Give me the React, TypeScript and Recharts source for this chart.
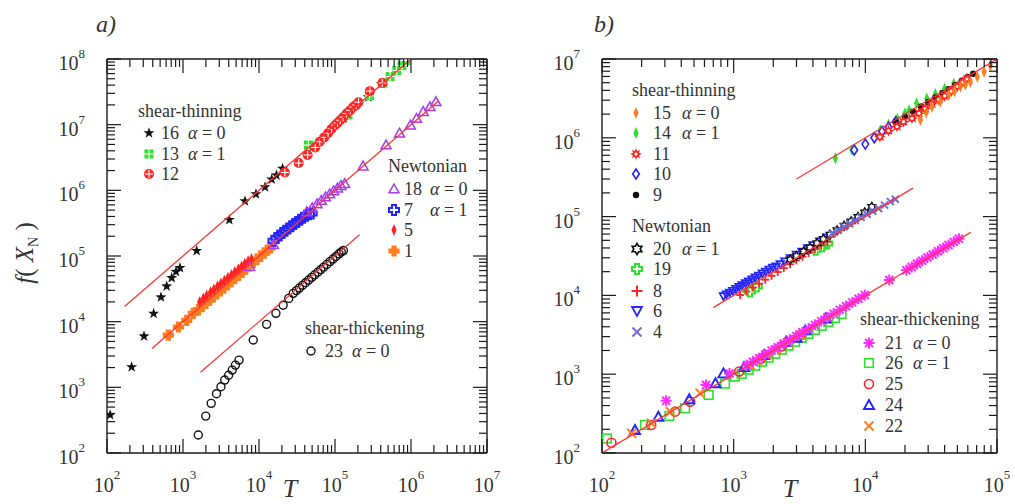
import React from 'react';
import { ScatterChart, Scatter, XAxis, YAxis } from 'recharts';

// ---------------- Panel a data (T, f) ----------------
const a16T = [110, 211, 307, 411, 513, 610, 710, 809, 912, 1513, 4070, 6540, 9120, 12000, 14700, 17000, 20400, 51000, 129000, 274000, 409000];
const a16F = [380, 2040, 6000, 13300, 23600, 34700, 46500, 57600, 66000, 120000, 355000, 684000, 875000, 1120000, 1470000, 1700000, 2150000, 4600000, 12400000, 26300000, 42000000];
const a13T = [44600, 148000, 285000, 430000, 530000, 650000, 760000, 860000];
const a13F = [4900000, 14000000, 27500000, 43000000, 54000000, 67000000, 79000000, 95000000];
const a12T = [21900, 33300, 43600, 55000, 63000, 72000, 81000, 90000, 100000, 108000, 117000, 128000, 142000, 158000, 174000, 190000, 204000, 288000, 420000];
const a12F = [1870000, 2600000, 3450000, 4500000, 5500000, 6400000, 7400000, 8600000, 9800000, 10600000, 11700000, 13000000, 14800000, 16500000, 18600000, 20000000, 22000000, 32400000, 43000000];
const a18T = [7540, 15500, 42600, 50000, 58000, 66000, 75000, 85000, 96000, 108000, 120000, 134000, 234000, 470000, 707000, 980000, 1180000, 1450000, 1780000, 2130000];
const a18F = [69000, 148000, 470000, 540000, 620000, 700000, 790000, 880000, 980000, 1080000, 1180000, 1260000, 2340000, 4900000, 7400000, 9800000, 12400000, 15800000, 18700000, 22300000];
const a7T = [15500, 17000, 18600, 20300, 22200, 24300, 26600, 29100, 31800, 34800, 38000, 41600, 45500, 49300];
const a7F = [170000, 188000, 206000, 224000, 243000, 262000, 284000, 306000, 330000, 356000, 383000, 410000, 432000, 445000];
const a5T = [1660, 1850, 2050, 2300, 2550, 2850, 3150, 3500, 3900, 4350, 4800, 5350, 5900, 6500, 7200, 7960];
const a5F = [20000, 22500, 25000, 28000, 31000, 34500, 38000, 42000, 46500, 51500, 57000, 63000, 69500, 76000, 83000, 90000];
const a1T = [641, 870, 1120, 1365, 1600, 1800, 2000, 2250, 2500, 2800, 3100, 3450, 3850, 4300, 4800, 5400, 6000, 6700, 7500, 8400, 9400, 10500, 11700, 13000, 14000];
const a1F = [6250, 8300, 10500, 13400, 15300, 17200, 19000, 21500, 23800, 26600, 29500, 32800, 36500, 40800, 45600, 51000, 57000, 63500, 71000, 79500, 89000, 99500, 111000, 123000, 133000];
const a23T = [1590, 1990, 2350, 2760, 3160, 3540, 3980, 4450, 4900, 5460, 8400, 12600, 16700, 20800, 24600, 28200, 31000, 34000, 37500, 41000, 45000, 49500, 54000, 59500, 65000, 71000, 78000, 86000, 94000, 103000, 113000, 121000, 129000];
const a23F = [188, 365, 570, 800, 1020, 1290, 1530, 1830, 2180, 2600, 5250, 9100, 13400, 17800, 22600, 27000, 29700, 32500, 35900, 39200, 43000, 47300, 51600, 56800, 62100, 67800, 74500, 82100, 89800, 98400, 108000, 115000, 121000];
// fitted lines, panel a
const aFit1T = [170, 1000000];
const aFit1F = [17000, 100000000];
const aFit2T = [390, 2300000];
const aFit2F = [3900, 23000000];
const aFit3T = [1700, 210000];
const aFit3F = [1700, 210000];

// ---------------- Panel b data (T, f) ----------------
const b15T = [26200, 29000, 32100, 37200, 43000, 47500, 52700, 57500, 62800, 70800, 79800, 89000, 100000];
const b15F = [1680000, 2100000, 2480000, 2880000, 3490000, 3900000, 4470000, 4700000, 5100000, 5960000, 6900000, 8300000, 10000000];
const b14T = [5920, 7920, 13000, 15000, 17500, 20000, 21500, 24500, 29300, 34000, 40000, 47000];
const b14F = [550000, 700000, 1250000, 1480000, 1750000, 2050000, 2240000, 2750000, 3160000, 3600000, 4200000, 4900000];
const b11T = [12900, 15000, 17400, 19500, 22600, 25500, 28500, 32000, 36000, 40000, 45000, 50000, 55000, 59000];
const b11F = [1030000, 1230000, 1390000, 1600000, 1770000, 2050000, 2350000, 2700000, 3050000, 3400000, 3900000, 4500000, 5100000, 5600000];
const b10T = [8240, 10000, 11700, 13400, 15000, 17000];
const b10F = [700000, 832000, 1000000, 1200000, 1350000, 1600000];
const b9T = [17000, 20000, 23000, 26500, 30000, 34000, 38500, 43000, 48000, 54000, 60000, 66000];
const b9F = [1600000, 1850000, 2150000, 2500000, 2850000, 3250000, 3700000, 4150000, 4650000, 5300000, 5900000, 6500000];
const b20T = [2690, 3000, 3400, 3800, 4300, 4800, 5400, 6100, 6900, 7800, 8800, 9900, 11200];
const b20F = [28500, 31500, 36000, 40500, 46000, 52000, 59000, 67000, 76500, 87000, 99000, 113000, 133000];
const b19T = [1330, 1500, 4200, 4700, 5130];
const b19F = [11200, 13000, 38000, 42000, 45700];
const b8T = [1120, 1250, 1400, 1560, 1740, 1940, 2160, 2400, 2680, 2990, 3330, 3710, 4140, 4620, 5150];
const b8F = [10100, 11200, 12600, 14100, 15800, 17700, 19800, 22200, 24800, 27800, 31000, 34600, 38600, 43100, 48000];
const b6T = [836, 880, 930, 985, 1040, 1100, 1160, 1230, 1300, 1380, 1460, 1550, 1650, 1750, 1860, 1980, 2100, 2260, 2450, 2700, 3000, 3300, 3650, 4000, 4500, 5100];
const b6F = [9780, 10300, 10850, 11450, 12100, 12800, 13500, 14300, 15100, 16000, 16900, 17900, 19000, 20100, 21300, 22600, 23400, 25000, 27000, 29700, 33000, 36000, 39700, 43500, 48500, 54500];
const b4T = [5600, 6200, 6900, 7600, 8400, 9300, 10300, 11400, 12600, 14000, 15500, 16900];
const b4F = [61000, 67000, 74000, 81000, 89000, 98000, 107000, 117000, 127000, 140000, 155000, 166000];
const b21T = [307, 617, 930, 1260, 1400, 1560, 1740, 1940, 2160, 2400, 2680, 2990, 3330, 3710, 4140, 4620, 5150, 5740, 6400, 7140, 7960, 8870, 9900, 15200, 20500, 22500, 24700, 27000, 29600, 32500, 35600, 39000, 42800, 46900, 51400];
const b21F = [460, 730, 1020, 1300, 1440, 1600, 1780, 1990, 2200, 2450, 2740, 3060, 3400, 3790, 4230, 4720, 5270, 5870, 6550, 7300, 8150, 9080, 10100, 15700, 20900, 22900, 25200, 27500, 30200, 33100, 36300, 39800, 43600, 47800, 52400];
const b26T = [109, 212, 325, 428, 646, 860, 1025, 1150, 1300, 1460, 1640, 1840, 2070, 2320, 2610, 2930, 3290, 3700, 4150, 4660, 5240, 5880, 6600];
const b26F = [153, 227, 295, 369, 545, 760, 930, 1010, 1140, 1280, 1440, 1620, 1820, 2040, 2300, 2580, 2900, 3250, 3650, 4100, 4600, 5170, 5800];
const b25T = [118, 236, 359, 467, 1100, 1600, 2300, 3200];
const b25F = [135, 227, 335, 447, 1080, 1560, 2250, 3120];
const b24T = [178, 268, 460, 727, 836, 1200, 1700, 2500, 3000, 3500, 5000];
const b24F = [196, 289, 480, 767, 1025, 1230, 1750, 2580, 2900, 3600, 5100];
const b22T = [168, 238, 330, 555, 1335, 1500, 1800, 2130, 2600, 3200];
const b22F = [178, 238, 335, 575, 1310, 1480, 1770, 2030, 2550, 3150];
// fitted lines, panel b
const bFit1T = [3000, 100000];
const bFit1F = [300000, 10000000];
const bFit2T = [700, 23000];
const bFit2F = [7000, 230000];
const bFit3T = [100, 63000];
const bFit3F = [100, 63000];

// ---------------- axes ----------------
const aXMajors = [1e2, 1e3, 1e4, 1e5, 1e6, 1e7];
const aYMajors = [1e2, 1e3, 1e4, 1e5, 1e6, 1e7, 1e8];
const bXMajors = [1e2, 1e3, 1e4, 1e5];
const bYMajors = [1e2, 1e3, 1e4, 1e5, 1e6, 1e7];

const withMinor = (majors: number[]) => {
  const out: number[] = [];
  majors.forEach((m, i) => {
    out.push(m);
    if (i < majors.length - 1) for (let k = 2; k <= 9; k++) out.push(m * k);
  });
  return out;
};
const zip = (t: number[], f: number[]) => t.map((x, i) => ({ x, y: f[i] }));

const FONT = "'Liberation Serif', 'DejaVu Serif', 'Times New Roman', Times, serif";
const AX = '#1a1a1a';
const TXT = '#333333';
const RED_LINE = '#ff3535';
const GREEN = '#2ce22c';
const RED = '#ff2424';
const BLUE = '#2424ff';
const ORANGE = '#ff7d1f';
const PURPLE = '#a43cf0';
const MAGENTA = '#ff2bff';
const LAV = '#6c6cd6';
const BLACK = '#111111';

const isMajor = (v: number) => Math.abs(Math.log10(v) - Math.round(Math.log10(v))) < 1e-6;
const MAJ = 14;
const MIN = 8;
const txtStyle = { fontFamily: FONT };

function BottomTick(props: any) {
  const { x, y, payload } = props;
  const v = payload.value;
  const maj = isMajor(v);
  return (
    <g>
      <line x1={x} x2={x} y1={y} y2={y - (maj ? MAJ : MIN)} stroke={AX} strokeWidth={1.2} />
      {maj && (
        <text x={x} y={y + 39} textAnchor="middle" fontSize={20} fill={TXT} style={txtStyle}>
          10<tspan dy={-13} fontSize={13}>{Math.round(Math.log10(v))}</tspan>
        </text>
      )}
    </g>
  );
}
function TopTick(props: any) {
  const { x, y, payload } = props;
  const maj = isMajor(payload.value);
  return <line x1={x} x2={x} y1={y} y2={y + (maj ? MAJ : MIN)} stroke={AX} strokeWidth={1.2} />;
}
function LeftTick(props: any) {
  const { x, y, payload } = props;
  const v = payload.value;
  const maj = isMajor(v);
  return (
    <g>
      <line x1={x} x2={x + (maj ? MAJ : MIN)} y1={y} y2={y} stroke={AX} strokeWidth={1.2} />
      {maj && (
        <text x={x - 22} y={y + 11} textAnchor="end" fontSize={20} fill={TXT} style={txtStyle}>
          10<tspan dy={-12} fontSize={13}>{Math.round(Math.log10(v))}</tspan>
        </text>
      )}
    </g>
  );
}
function RightTick(props: any) {
  const { x, y, payload } = props;
  const maj = isMajor(payload.value);
  return <line x1={x} x2={x - (maj ? MAJ : MIN)} y1={y} y2={y} stroke={AX} strokeWidth={1.2} />;
}

// ---------------- markers ----------------
const pts = (arr: number[][]) => arr.map((p) => p.join(',')).join(' ');
const starPts = (cx: number, cy: number, ro: number, ri: number, n: number) => {
  const out: number[][] = [];
  for (let i = 0; i < 2 * n; i++) {
    const r = i % 2 ? ri : ro;
    const a = ((-90 + (i * 180) / n) * Math.PI) / 180;
    out.push([cx + r * Math.cos(a), cy + r * Math.sin(a)]);
  }
  return pts(out);
};
const plusPts = (cx: number, cy: number, h: number, e: number) =>
  pts([
    [cx - h, cy - e], [cx + h, cy - e], [cx + h, cy - h], [cx + e, cy - h], [cx + e, cy + h], [cx + h, cy + h],
    [cx + h, cy + e], [cx - h, cy + e], [cx - h, cy + h], [cx - e, cy + h], [cx - e, cy - h], [cx - h, cy - h],
  ]);
const thinDiamond = (cx: number, cy: number, c: string) => (
  <polygon points={pts([[cx, cy - 6], [cx + 2.6, cy], [cx, cy + 6], [cx - 2.6, cy]])} fill={c} />
);
const xMark = (cx: number, cy: number, c: string, r = 4.5) => (
  <g stroke={c} strokeWidth={2}>
    <line x1={cx - r} y1={cy - r} x2={cx + r} y2={cy + r} />
    <line x1={cx - r} y1={cy + r} x2={cx + r} y2={cy - r} />
  </g>
);

type Mk = (cx: number, cy: number) => React.ReactElement;
const mStar5: Mk = (cx, cy) => <polygon points={starPts(cx, cy, 5.8, 2.3, 5)} fill={BLACK} />;
const mGridSq: Mk = (cx, cy) => (
  <g>
    <rect x={cx - 4.5} y={cy - 4.5} width={9} height={9} fill={GREEN} />
    <line x1={cx - 4.5} x2={cx + 4.5} y1={cy} y2={cy} stroke="#fff" strokeWidth={1.1} />
    <line x1={cx} x2={cx} y1={cy - 4.5} y2={cy + 4.5} stroke="#fff" strokeWidth={1.1} />
  </g>
);
const mCrossCirc: Mk = (cx, cy) => (
  <g>
    <circle cx={cx} cy={cy} r={5} fill={RED} />
    <line x1={cx - 4} x2={cx + 4} y1={cy} y2={cy} stroke="#fff" strokeWidth={1.1} />
    <line x1={cx} x2={cx} y1={cy - 4} y2={cy + 4} stroke="#fff" strokeWidth={1.1} />
  </g>
);
const mTriPurple: Mk = (cx, cy) => (
  <polygon points={pts([[cx, cy - 5], [cx + 5, cy + 3.8], [cx - 5, cy + 3.8]])} fill="none" stroke={PURPLE} strokeWidth={1.5} />
);
const mPlusBlue: Mk = (cx, cy) => <polygon points={plusPts(cx, cy, 2, 5)} fill="none" stroke={BLUE} strokeWidth={2} />;
const mDiaRed: Mk = (cx, cy) => thinDiamond(cx, cy, RED);
const mPlusOrange: Mk = (cx, cy) => <polygon points={plusPts(cx, cy, 2.6, 5.6)} fill={ORANGE} />;
const mCircBlack: Mk = (cx, cy) => <circle cx={cx} cy={cy} r={4} fill="none" stroke={BLACK} strokeWidth={1.4} />;

const mDiaOrange: Mk = (cx, cy) => thinDiamond(cx, cy, ORANGE);
const mDiaGreen: Mk = (cx, cy) => thinDiamond(cx, cy, GREEN);
const mSunRed: Mk = (cx, cy) => (
  <g>
    <polygon points={starPts(cx, cy, 5.8, 3.2, 8)} fill={RED} />
    <circle cx={cx} cy={cy} r={1.6} fill="#fff" />
  </g>
);
const mDiaBlueOpen: Mk = (cx, cy) => (
  <polygon points={pts([[cx, cy - 5], [cx + 3.3, cy], [cx, cy + 5], [cx - 3.3, cy]])} fill="#fff" stroke={BLUE} strokeWidth={1.6} />
);
const mDotBlack: Mk = (cx, cy) => <circle cx={cx} cy={cy} r={3.2} fill={BLACK} />;
const mHexBlack: Mk = (cx, cy) => (
  <polygon points={starPts(cx, cy, 5.6, 3.2, 6)} fill="#fff" stroke={BLACK} strokeWidth={1.6} />
);
const mHexBlackSm: Mk = (cx, cy) => (
  <polygon points={starPts(cx, cy, 4.5, 2.6, 6)} fill="#fff" stroke={BLACK} strokeWidth={1.4} />
);
const mPlusGreen: Mk = (cx, cy) => <polygon points={plusPts(cx, cy, 2, 5)} fill="none" stroke={GREEN} strokeWidth={2} />;
const mPlusRedThin: Mk = (cx, cy) => (
  <g stroke={RED} strokeWidth={2}>
    <line x1={cx - 5.5} x2={cx + 5.5} y1={cy} y2={cy} />
    <line x1={cx} x2={cx} y1={cy - 5.5} y2={cy + 5.5} />
  </g>
);
const mPlusRedSm: Mk = (cx, cy) => (
  <g stroke={RED} strokeWidth={1.8}>
    <line x1={cx - 4} x2={cx + 4} y1={cy} y2={cy} />
    <line x1={cx} x2={cx} y1={cy - 4} y2={cy + 4} />
  </g>
);
const mTriDownBlue: Mk = (cx, cy) => (
  <polygon points={pts([[cx - 5, cy - 4], [cx + 5, cy - 4], [cx, cy + 5]])} fill="none" stroke={BLUE} strokeWidth={1.8} />
);
const mTriDownBlueSm: Mk = (cx, cy) => (
  <polygon points={pts([[cx - 3.8, cy - 3], [cx + 3.8, cy - 3], [cx, cy + 3.8]])} fill="none" stroke={BLUE} strokeWidth={1.7} />
);
const mXLav: Mk = (cx, cy) => xMark(cx, cy, LAV);
const mXLavSm: Mk = (cx, cy) => xMark(cx, cy, LAV, 3.5);
const mAstMag: Mk = (cx, cy) => (
  <g stroke={MAGENTA} strokeWidth={2}>
    <line x1={cx - 5.5} x2={cx + 5.5} y1={cy} y2={cy} />
    <line x1={cx} x2={cx} y1={cy - 5.5} y2={cy + 5.5} />
    <line x1={cx - 4} x2={cx + 4} y1={cy - 4} y2={cy + 4} />
    <line x1={cx - 4} x2={cx + 4} y1={cy + 4} y2={cy - 4} />
  </g>
);
const mSqGreen: Mk = (cx, cy) => (
  <rect x={cx - 4.3} y={cy - 4.3} width={8.6} height={8.6} fill="none" stroke={GREEN} strokeWidth={1.6} />
);
const mCircRed: Mk = (cx, cy) => <circle cx={cx} cy={cy} r={4.5} fill="none" stroke={RED} strokeWidth={1.6} />;
const mTriBlue: Mk = (cx, cy) => (
  <polygon points={pts([[cx, cy - 5], [cx + 5, cy + 4], [cx - 5, cy + 4]])} fill="none" stroke={BLUE} strokeWidth={1.9} />
);
const mXOrange: Mk = (cx, cy) => xMark(cx, cy, ORANGE);

// ---------------- series ----------------
type S = { id: string; data: { x: number; y: number }[]; mark: Mk };
const seriesA: S[] = [
  { id: 'a1', data: zip(a1T, a1F), mark: mPlusOrange },
  { id: 'a5', data: zip(a5T, a5F), mark: mDiaRed },
  { id: 'a7', data: zip(a7T, a7F), mark: mPlusBlue },
  { id: 'a18', data: zip(a18T, a18F), mark: mTriPurple },
  { id: 'a16', data: zip(a16T, a16F), mark: mStar5 },
  { id: 'a13', data: zip(a13T, a13F), mark: mGridSq },
  { id: 'a12', data: zip(a12T, a12F), mark: mCrossCirc },
  { id: 'a23', data: zip(a23T, a23F), mark: mCircBlack },
];
const fitsA = [zip(aFit1T, aFit1F), zip(aFit2T, aFit2F), zip(aFit3T, aFit3F)];

const seriesB: S[] = [
  { id: 'b14', data: zip(b14T, b14F), mark: mDiaGreen },
  { id: 'b10', data: zip(b10T, b10F), mark: mDiaBlueOpen },
  { id: 'b9', data: zip(b9T, b9F), mark: mDotBlack },
  { id: 'b11', data: zip(b11T, b11F), mark: mSunRed },
  { id: 'b15', data: zip(b15T, b15F), mark: mDiaOrange },
  { id: 'b19', data: zip(b19T, b19F), mark: mPlusGreen },
  { id: 'b8', data: zip(b8T, b8F), mark: mPlusRedSm },
  { id: 'b6', data: zip(b6T, b6F), mark: mTriDownBlueSm },
  { id: 'b20', data: zip(b20T, b20F), mark: mHexBlackSm },
  { id: 'b4', data: zip(b4T, b4F), mark: mXLavSm },
  { id: 'b26', data: zip(b26T, b26F), mark: mSqGreen },
  { id: 'b25', data: zip(b25T, b25F), mark: mCircRed },
  { id: 'b24', data: zip(b24T, b24F), mark: mTriBlue },
  { id: 'b22', data: zip(b22T, b22F), mark: mXOrange },
  { id: 'b21', data: zip(b21T, b21F), mark: mAstMag },
];
const fitsB = [zip(bFit1T, bFit1F), zip(bFit2T, bFit2F), zip(bFit3T, bFit3F)];

const axisLine = { stroke: AX, strokeWidth: 1.4 };

function renderPanel(
  width: number,
  margin: { top: number; right: number; bottom: number; left: number },
  xMaj: number[],
  yMaj: number[],
  series: S[],
  fits: { x: number; y: number }[][]
) {
  const xDom = [xMaj[0], xMaj[xMaj.length - 1]];
  const yDom = [yMaj[0], yMaj[yMaj.length - 1]];
  const xT = withMinor(xMaj);
  const yT = withMinor(yMaj);
  return (
    <ScatterChart width={width} height={504} margin={margin} style={txtStyle}>
      <XAxis xAxisId="b" type="number" dataKey="x" scale="log" domain={xDom} allowDataOverflow ticks={xT} interval={0}
        tick={<BottomTick />} tickLine={false} tickSize={0} tickMargin={0} height={30} axisLine={axisLine} />
      <XAxis xAxisId="t" orientation="top" type="number" dataKey="x" scale="log" domain={xDom} allowDataOverflow ticks={xT} interval={0}
        tick={<TopTick />} tickLine={false} tickSize={0} tickMargin={0} height={10} axisLine={axisLine} />
      <YAxis yAxisId="l" type="number" dataKey="y" scale="log" domain={yDom} allowDataOverflow ticks={yT} interval={0}
        tick={<LeftTick />} tickLine={false} tickSize={0} tickMargin={0} width={40} axisLine={axisLine} />
      <YAxis yAxisId="r" orientation="right" type="number" dataKey="y" scale="log" domain={yDom} allowDataOverflow ticks={yT} interval={0}
        tick={<RightTick />} tickLine={false} tickSize={0} tickMargin={0} width={10} axisLine={axisLine} />
      {series.map((s) => (
        <Scatter key={s.id} xAxisId="b" yAxisId="l" data={s.data} isAnimationActive={false}
          shape={(p: any) => s.mark(p.cx, p.cy)} />
      ))}
      {fits.map((d, i) => (
        <Scatter key={'fit' + i} xAxisId="t" yAxisId="r" data={d} isAnimationActive={false}
          line={{ stroke: RED_LINE, strokeWidth: 1.3 }} shape={() => <g />} />
      ))}
    </ScatterChart>
  );
}

function LegendRow(props: { mx: number; y: number; mark: Mk; label: string; nx: number; alpha?: string; ax?: number }) {
  const { mx, y, mark, label, nx, alpha, ax } = props;
  return (
    <g>
      {mark(mx, y)}
      <text x={nx} y={y + 6} fontSize={18} fill={TXT} style={txtStyle}>{label}</text>
      {alpha && (
        <text x={ax} y={y + 6} fontSize={18} fill={TXT} style={txtStyle}>
          <tspan fontStyle="italic">α</tspan> = {alpha}
        </text>
      )}
    </g>
  );
}

export default function App() {
  return (
    <div style={{ position: 'absolute', left: 0, top: 0, width: 1015, height: 504, background: '#fff', fontFamily: FONT, overflow: 'hidden' }}>
      <div style={{ position: 'absolute', left: 0, top: 0 }}>
        {renderPanel(515, { top: 49, right: 18, bottom: 21, left: 67 }, aXMajors, aYMajors, seriesA, fitsA)}
      </div>
      <div style={{ position: 'absolute', left: 515, top: 0 }}>
        {renderPanel(500, { top: 49, right: 8, bottom: 21, left: 47 }, bXMajors, bYMajors, seriesB, fitsB)}
      </div>
      <svg width={1015} height={504} style={{ position: 'absolute', left: 0, top: 0, pointerEvents: 'none', fontFamily: FONT }}>
        {/* panel labels */}
        <text x={96} y={32} fontSize={24} fontStyle="italic" fill={TXT} style={txtStyle}>a)</text>
        <text x={594} y={32} fontSize={24} fontStyle="italic" fill={TXT} style={txtStyle}>b)</text>
        {/* axis titles */}
        <text transform="translate(33,253) rotate(-90)" textAnchor="middle" fontSize={25} fill={TXT} style={txtStyle}>
          <tspan fontStyle="italic">f</tspan>( <tspan fontStyle="italic">X</tspan>
          <tspan fontSize={14} dy={5}>N</tspan>
          <tspan dy={-5}> )</tspan>
        </text>
        <text x={290} y={497} textAnchor="middle" fontSize={26} fontStyle="italic" fill={TXT} style={txtStyle}>T</text>
        <text x={790} y={497} textAnchor="middle" fontSize={26} fontStyle="italic" fill={TXT} style={txtStyle}>T</text>

        {/* panel a legends */}
        <text x={138} y={117} fontSize={18} fill={TXT} style={txtStyle}>shear-thinning</text>
        <LegendRow mx={149} y={133} mark={mStar5} label="16" nx={161} alpha="0" ax={188} />
        <LegendRow mx={149} y={154} mark={mGridSq} label="13" nx={161} alpha="1" ax={188} />
        <LegendRow mx={149} y={174} mark={mCrossCirc} label="12" nx={161} />

        <text x={388} y={172} fontSize={18} fill={TXT} style={txtStyle}>Newtonian</text>
        <LegendRow mx={394} y={189} mark={mTriPurple} label="18" nx={404} alpha="0" ax={430} />
        <LegendRow mx={394} y={210} mark={mPlusBlue} label="7" nx={404} alpha="1" ax={430} />
        <LegendRow mx={394} y={230} mark={mDiaRed} label="5" nx={404} />
        <LegendRow mx={394} y={251} mark={mPlusOrange} label="1" nx={404} />

        <text x={305} y={334} fontSize={18} fill={TXT} style={txtStyle}>shear-thickening</text>
        <LegendRow mx={311} y={351} mark={mCircBlack} label="23" nx={325} alpha="0" ax={352} />

        {/* panel b legends */}
        <text x={632} y={96} fontSize={18} fill={TXT} style={txtStyle}>shear-thinning</text>
        <LegendRow mx={636} y={113} mark={mDiaOrange} label="15" nx={653} alpha="0" ax={682} />
        <LegendRow mx={636} y={133} mark={mDiaGreen} label="14" nx={653} alpha="1" ax={682} />
        <LegendRow mx={636} y={154} mark={mSunRed} label="11" nx={653} />
        <LegendRow mx={636} y={174} mark={mDiaBlueOpen} label="10" nx={653} />
        <LegendRow mx={636} y={195} mark={mDotBlack} label="9" nx={653} />

        <text x={632} y={232} fontSize={18} fill={TXT} style={txtStyle}>Newtonian</text>
        <LegendRow mx={637} y={249} mark={mHexBlack} label="20" nx={653} alpha="1" ax={682} />
        <LegendRow mx={637} y={269} mark={mPlusGreen} label="19" nx={653} />
        <LegendRow mx={637} y={291} mark={mPlusRedThin} label="8" nx={653} />
        <LegendRow mx={637} y={311} mark={mTriDownBlue} label="6" nx={653} />
        <LegendRow mx={637} y={332} mark={mXLav} label="4" nx={653} />

        <text x={860} y={325} fontSize={18} fill={TXT} style={txtStyle}>shear-thickening</text>
        <LegendRow mx={869} y={343} mark={mAstMag} label="21" nx={885} alpha="0" ax={913} />
        <LegendRow mx={869} y={363} mark={mSqGreen} label="26" nx={885} alpha="1" ax={913} />
        <LegendRow mx={869} y={384} mark={mCircRed} label="25" nx={885} />
        <LegendRow mx={869} y={405} mark={mTriBlue} label="24" nx={885} />
        <LegendRow mx={869} y={426} mark={mXOrange} label="22" nx={885} />
      </svg>
    </div>
  );
}
